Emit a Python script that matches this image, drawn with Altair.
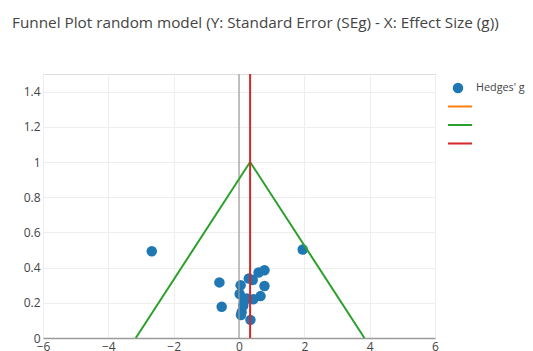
import altair as alt
import pandas as pd

# Data
effect_g = [-2.67, 1.95, -0.60, -0.53, 0.05, 0.30, 0.42, 0.60, 0.78, 0.78,
            0.66, 0.44, 0.02, 0.16, 0.08, 0.13, 0.35, 0.06, 0.24]
se_g = [0.493, 0.503, 0.316, 0.178, 0.300, 0.338, 0.330, 0.372, 0.385, 0.295,
        0.238, 0.220, 0.250, 0.210, 0.147, 0.185, 0.103, 0.130, 0.225]

funnel_x = [-3.16, 0.34, 3.84]
funnel_y = [0.0, 1.0, 0.0]
mean_x = [0.34, 0.34]
mean_y = [0.0, 1.5]

x_ticks = [-6, -4, -2, 0, 2, 4, 6]
y_ticks = [0, 0.2, 0.4, 0.6, 0.8, 1, 1.2, 1.4]

legend_labels = ["Hedges' g", "", "", ""]
legend_colors = ["#1f77b4", "#ff7f0e", "#2ca02c", "#d62728"]

FONT = "Open Sans"
W, H = 392, 264

pts = pd.DataFrame({"g": effect_g, "se": se_g})
funnel = pd.DataFrame({"g": funnel_x, "se": funnel_y, "o": [0, 1, 2]})
mean = pd.DataFrame({"g": mean_x, "se": mean_y})
zero = pd.DataFrame({"g": [0, 0], "se": [0, 1.5]})

xs = alt.Scale(domain=[-6, 6], nice=False, zero=False)
ys = alt.Scale(domain=[0, 1.5], nice=False)

xaxis = alt.Axis(
    values=x_ticks, title=None, grid=True, gridColor="#eeeeee",
    domain=True, domainColor="#9a9a9a", domainWidth=1.5, ticks=False,
    labelPadding=3, labelFontSize=12, labelColor="#444444", labelFont=FONT,
    labelFlush=False, labelOverlap=False, format="~g",
    labelExpr="replace(datum.label, '-', '\u2212')")
yaxis = alt.Axis(
    values=y_ticks, title=None, grid=True,
    gridColor="#eeeeee", domain=False, ticks=False, labelPadding=3,
    labelFontSize=12, labelColor="#444444", labelFont=FONT, labelFlush=False,
    labelOverlap=False, format="~g")


def xe():
    return alt.X("g:Q", scale=xs, axis=xaxis)


def ye():
    return alt.Y("se:Q", scale=ys, axis=yaxis)


zero_line = alt.Chart(zero).mark_line(color="#9a9a9a", strokeWidth=1.2).encode(
    x=xe(), y=ye())
funnel_line = alt.Chart(funnel).mark_line(color="#2ca02c", strokeWidth=2).encode(
    x=xe(), y=ye(), order="o:Q")
mean_line = alt.Chart(mean).mark_line(color="#d62728", strokeWidth=2).encode(
    x=xe(), y=ye())
points = alt.Chart(pts).mark_circle(size=110, color="#1f77b4", opacity=1).encode(
    x=xe(), y=ye())

# legend (drawn to the right of the plot)
leg_layers = []
row_y = [14, 32.5, 51, 69.5]
leg_df = pd.DataFrame({"label": legend_labels})
leg_layers.append(alt.Chart(leg_df.iloc[[0]]).mark_circle(
    size=110, color=legend_colors[0], opacity=1).encode(
    x=alt.value(415), y=alt.value(row_y[0])))
leg_layers.append(alt.Chart(leg_df.iloc[[0]]).mark_text(
    align="left", baseline="middle", fontSize=10.8, font=FONT, color="#444444").encode(
    x=alt.value(433), y=alt.value(row_y[0]), text="label:N"))
for i in range(1, 4):
    leg_layers.append(alt.Chart(leg_df.iloc[[i]]).mark_rule(
        color=legend_colors[i], strokeWidth=2).encode(
        x=alt.value(405), x2=alt.value(429), y=alt.value(row_y[i])))

chart = alt.layer(points, zero_line, funnel_line, mean_line, *leg_layers).properties(
    width=W, height=H,
    title=alt.TitleParams(
        "Funnel Plot random model (Y: Standard Error (SEg) - X: Effect Size (g))",
        anchor="start", frame="group", dx=-31, offset=39, fontSize=15.3,
        fontWeight="normal", font=FONT, color="#444444"),
    autosize=alt.AutoSizeParams(type="none"),
    padding={"left": 35, "top": 66, "right": 90, "bottom": 20},
).configure_view(stroke=None).configure_axis(labelOverlap=False).configure(
    background="white")

chart.save("out.html", embed_options={"renderer": "svg", "actions": False})
